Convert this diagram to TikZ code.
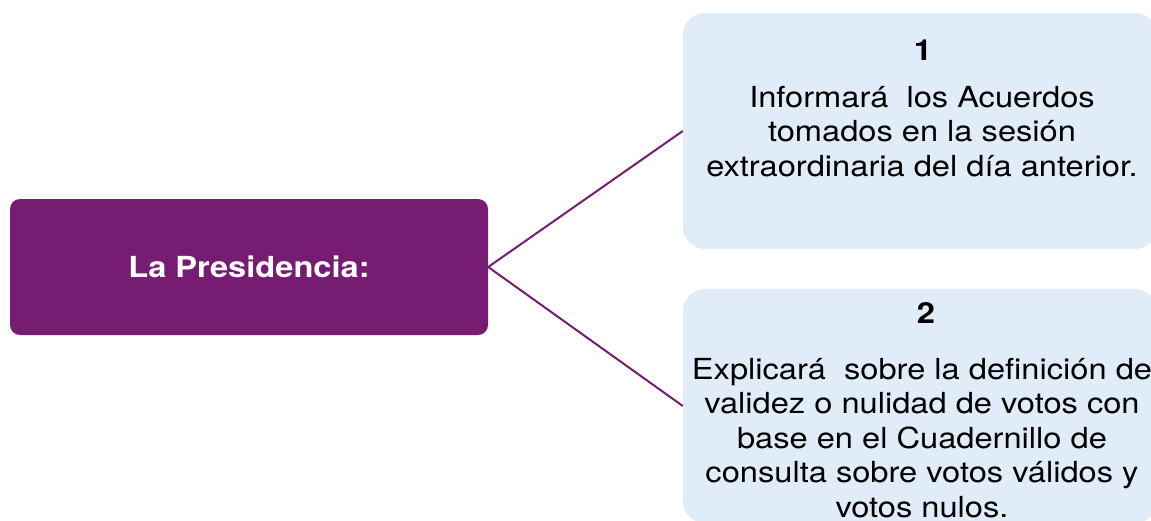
\documentclass[tikz,border=0pt]{standalone}
\usepackage{fontspec}
\setmainfont[FakeStretch=1.125]{TeX Gyre Heros}
\definecolor{presP}{HTML}{761C73}
\definecolor{boxB}{HTML}{E0ECF7}
\begin{document}
\begin{tikzpicture}[x=1pt,y=1pt,
  presbox/.style={fill=presP, draw=none, rounded corners=10pt, inner sep=0pt,
    text=white, font=\fontsize{29}{34}\selectfont\bfseries},
  infobox/.style={fill=boxB, draw=none, rounded corners=22pt, inner sep=0pt,
    minimum width=474pt},
  numtext/.style={font=\fontsize{29}{34}\selectfont\bfseries, inner sep=0pt, anchor=base},
  bodytext/.style={font=\fontsize{29}{34.5}\selectfont, align=center, inner sep=0pt, anchor=north},
  conn/.style={draw=presP, line width=2pt}]
\useasboundingbox (0,0) rectangle (1151,-520);
\clip (0,0) rectangle (1151,-520);
\node[presbox, minimum width=478pt, minimum height=136pt] (pres) at (249,-267) {La Presidencia:};
\node[infobox, minimum height=236pt] (b1) at (920,-131) {};
\node[infobox, minimum height=234pt] (b2) at (920,-406) {};
\node[numtext] (n1) at (923,-60) {1};
\node[bodytext] (t1) at (922,-86) {Informará\ \ los Acuerdos\\tomados en la sesión\\extraordinaria del día anterior.};
\node[numtext] (n2) at (926,-323) {2};
\node[bodytext] (t2) at (922,-358) {Explicará\ \ sobre la definición de\\validez o nulidad de votos con\\base en el Cuadernillo de\\consulta sobre votos válidos y\\votos nulos.};
\draw[conn] (pres.east) -- (b1.west);
\draw[conn] (pres.east) -- (b2.west);
\end{tikzpicture}
\end{document}
